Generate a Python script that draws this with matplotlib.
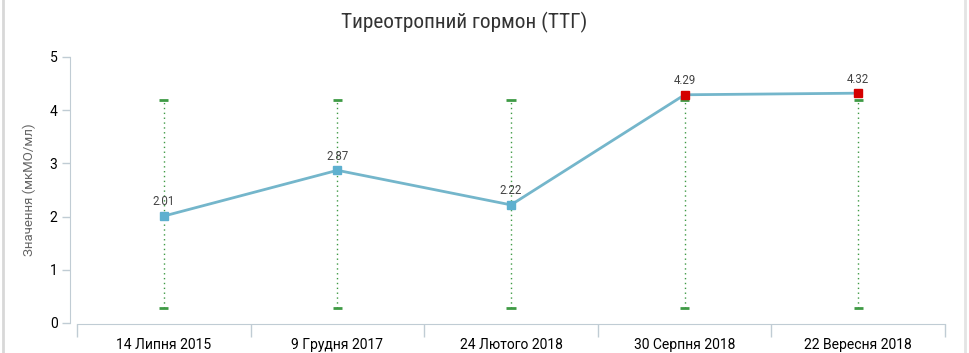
import matplotlib
matplotlib.use("Agg")
import logging
logging.getLogger('matplotlib.font_manager').setLevel(logging.ERROR)
import matplotlib.pyplot as plt
from matplotlib.lines import Line2D
from matplotlib import font_manager as fm
from matplotlib.ft2font import FT2Font

categories = ["14 Липня 2015", "9 Грудня 2017", "24 Лютого 2018", "30 Серпня 2018", "22 Вересня 2018"]
values = [2.01, 2.87, 2.22, 4.29, 4.32]
ref_low = [0.28, 0.28, 0.28, 0.28, 0.28]
ref_high = [4.2, 4.2, 4.2, 4.2, 4.2]
title = "Тиреотропний гормон (ТТГ)"
ylabel = "Значення (мкМО/мл)"


def pick_condensed():
    prefs = ['Open Sans Condensed', 'Roboto Condensed', 'Fira Sans Condensed', 'PT Sans Narrow',
             'IBM Plex Sans Condensed', 'Ubuntu Condensed', 'Noto Sans']
    cands = []
    for f in fm.fontManager.ttflist:
        w = f.weight if isinstance(f.weight, int) else 400
        st = str(f.stretch)
        is_cond = ('ondensed' in st) or ('Condensed' in f.name) or ('Narrow' in f.name)
        if not is_cond or f.style != 'normal' or not (300 <= w <= 400):
            continue
        try:
            ft = FT2Font(f.fname)
            if not all(ft.get_char_index(ord(c)) for c in "ТиГ("):
                continue
        except Exception:
            continue
        rank = prefs.index(f.name) if f.name in prefs else len(prefs)
        cands.append((rank, abs(w - 350), f.fname))
    if cands:
        cands.sort()
        return fm.FontProperties(fname=cands[0][2], size=15.3)
    return fm.FontProperties(family=['Open Sans', 'DejaVu Sans'], size=13)


plt.rcParams['font.family'] = ['Roboto', 'DejaVu Sans']

W, H = 969, 353
fig = plt.figure(figsize=(W/100, H/100), dpi=100)
ax = fig.add_axes([77/W, 1-323/H, (945-77)/W, (323-57)/H])

xs = [i + 0.5 for i in range(len(categories))]
green = "#3f9a45"
for x, lo, hi in zip(xs, ref_low, ref_high):
    ax.plot([x, x], [lo, hi], color=green, lw=1, ls=(0, (1, 2.5)), zorder=1)
    ax.plot([x - 0.026, x + 0.026], [lo, lo], color=green, lw=2, solid_capstyle='butt', zorder=2)
    ax.plot([x - 0.026, x + 0.026], [hi, hi], color=green, lw=2, solid_capstyle='butt', zorder=2)

ax.plot(xs, values, color="#74b6cb", lw=2, zorder=3)
for x, v, hi in zip(xs, values, ref_high):
    c = "#d40000" if v > hi else "#5eb0cf"
    ax.plot([x], [v], marker='s', ms=6.2, color=c, mec=c, zorder=4, ls='none')
    ax.annotate(f"{v:.2f}", (x, v), xytext=(0, 5.5), textcoords='offset points',
                ha='center', va='bottom', fontsize=8.3, color="#444444")

ax.set_xlim(0, 5)
ax.set_ylim(0, 5)
ax.set_xticks(xs)
ax.set_xticklabels(categories, fontsize=7.4, color="#4a4a4a")
ax.set_xticks(range(6), minor=True)
ax.tick_params(axis='x', which='major', length=0, pad=10)
ax.tick_params(axis='x', which='minor', length=9, color="#c0ccd4", width=1)
ax.set_yticks(range(6))
ax.set_yticklabels([str(i) for i in range(6)], fontsize=8.5, color="#555555")
ax.tick_params(axis='y', length=6, color="#c0ccd4", width=1, pad=3)

for s in ['top', 'right']:
    ax.spines[s].set_visible(False)
ax.spines['left'].set_position(('outward', 5))
ax.spines['left'].set_color("#c0ccd4")
ax.spines['bottom'].set_color("#c0ccd4")
ax.spines['bottom'].set_position(('outward', 1))

ax.set_ylabel(ylabel, fontsize=9.5, color="#666666", labelpad=10)

fig.text(464/W, 1-22/H, title, ha='center', va='center', color="#333333",
         fontproperties=pick_condensed())

# page borders
fig.add_artist(Line2D([2.5/W, 2.5/W], [0, 1], color="#d8d8d8", lw=2))
fig.add_artist(Line2D([965/W, 965/W], [0, 1], color="#e4e4e4", lw=2))

fig.savefig("out.png", dpi=100, facecolor="white")
